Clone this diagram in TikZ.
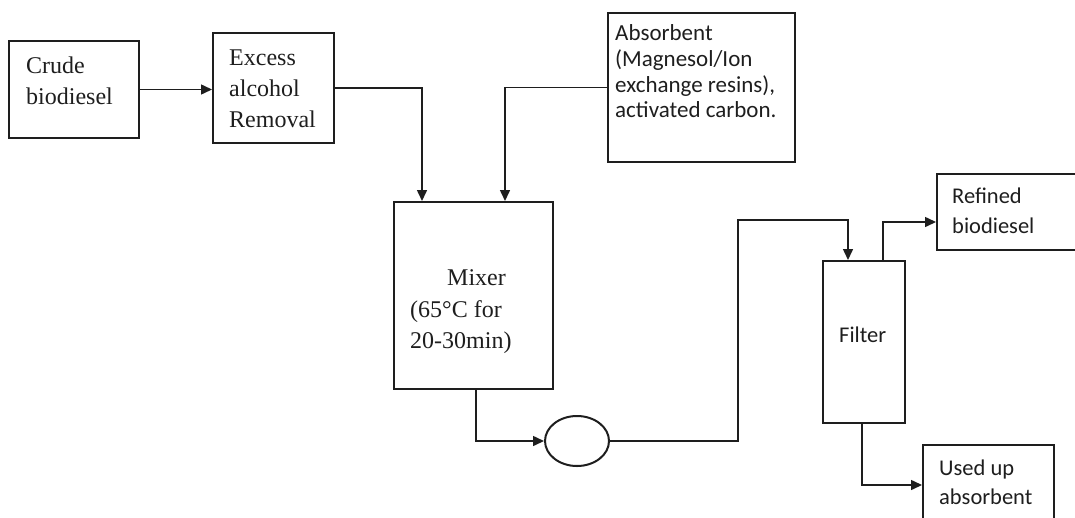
\documentclass[tikz,border=0pt]{standalone}
\usepackage{fontspec}
\setmainfont{Liberation Serif}
\newfontfamily\calfont{Carlito}
\usetikzlibrary{arrows.meta,calc,shapes.geometric}
\definecolor{ink}{HTML}{1E1E1E}
\tikzset{
  box/.style={draw=ink, line width=2pt, inner sep=0pt},
  flow/.style={draw=ink, line width=1.5pt},
  arr/.style={flow, -{Triangle[length=11pt,width=10pt]}},
  sertxt/.style={anchor=base west, inner sep=0pt, text=ink, font=\fontsize{24}{31}\selectfont},
  caltxt/.style={anchor=base west, inner sep=0pt, text=ink, font=\calfont\fontsize{22.5}{26}\selectfont},
}
\begin{document}
\begin{tikzpicture}[x=1pt,y=-1pt]
\useasboundingbox (0,0) rectangle (1075,517);
\clip (0,0) rectangle (1075,517);
% boxes
\node[box, minimum width=130pt, minimum height=97pt] (crude) at (74,89.5) {};
\node[box, minimum width=121pt, minimum height=110pt] (excess) at (273.5,88) {};
\node[box, minimum width=187pt, minimum height=149pt] (absorb) at (701.5,87.5) {};
\node[box, minimum width=159pt, minimum height=187pt] (mixer) at (473.5,295.5) {};
\node[box, ellipse, minimum width=64pt, minimum height=50pt] (pump) at (577,441) {};
\node[box, minimum width=82pt, minimum height=162pt] (filter) at (864,342) {};
\node[box, minimum width=150pt, minimum height=76pt] (refined) at (1012,212) {};
\node[box, minimum width=131pt, minimum height=80pt] (used) at (988.5,485) {};
% texts
\node[sertxt] at (26,73) {Crude};
\node[sertxt] at (26,104) {biodiesel};
\node[sertxt] at (229,65) {Excess};
\node[sertxt] at (229,96) {alcohol};
\node[sertxt] at (229,127) {Removal};
\node[sertxt] at (447,285) {Mixer};
\node[sertxt] at (410,317) {(65\textdegree C for};
\node[sertxt] at (410,348) {20-30min)};
\node[caltxt, font=\calfont\fontsize{23}{26}\selectfont] at (615,40) {Absorbent};
\node[caltxt, font=\calfont\fontsize{23}{26}\selectfont] at (615,66) {(Magnesol/Ion};
\node[caltxt, font=\calfont\fontsize{23}{26}\selectfont] at (615,92) {exchange resins),};
\node[caltxt, font=\calfont\fontsize{23}{26}\selectfont] at (615,117) {activated carbon.};
\node[caltxt] at (839,342) {Filter};
\node[caltxt] at (952,203) {Refined};
\node[caltxt] at (952,233) {biodiesel};
\node[caltxt] at (939,475) {Used up};
\node[caltxt] at (939,504) {absorbent};
% connectors
\coordinate (bend) at (738,220);
\draw[arr] (crude.east) -- (crude.east -| excess.west);
\draw[arr] (excess.east) -| ($(mixer.north west)+(29,0)$);
\draw[arr] (absorb.west) -| ($(mixer.north west)+(112,0)$);
\draw[arr] ($(mixer.south)+(2.5,0)$) |- (pump.west);
\draw[arr] (pump.east) -| (bend) -| ($(filter.north)+(-16,0)$);
\draw[arr] ($(filter.north)+(19,0)$) |- ($(refined.west)+(0,10)$);
\draw[arr] ($(filter.south)+(-2,0)$) |- (used.west);
\end{tikzpicture}
\end{document}
